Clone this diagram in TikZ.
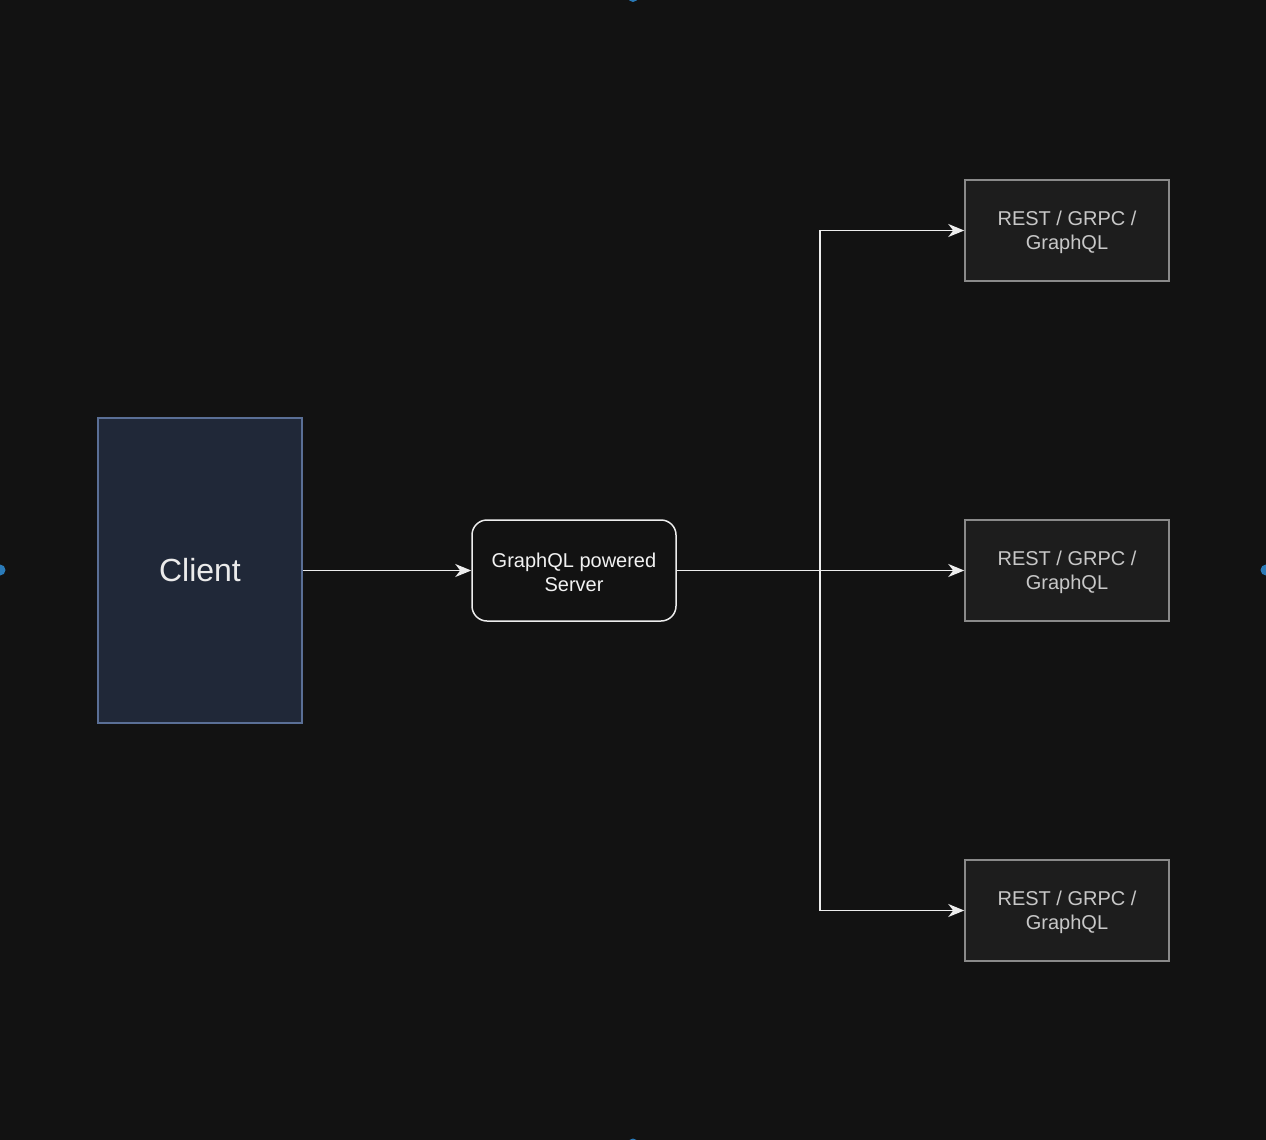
\documentclass[tikz,border=0pt]{standalone}
\usepackage{fontspec}
\setmainfont{Liberation Sans}
\usetikzlibrary{arrows.meta}
\definecolor{bg}{HTML}{121212}
\definecolor{clientfill}{HTML}{202838}
\definecolor{clientdraw}{HTML}{5A6F96}
\definecolor{svcfill}{HTML}{1D1D1D}
\definecolor{svcdraw}{HTML}{8A8A8A}
\definecolor{svctext}{HTML}{C8C8C8}
\definecolor{edge}{HTML}{EDEDED}
\definecolor{handle}{HTML}{2A7AB8}
\newcommand{\lowerstrut}{\rule{0pt}{18.5pt}}
\begin{document}
\begin{tikzpicture}[x=1pt,y=-1pt,
  clientbox/.style={draw=clientdraw,fill=clientfill,line width=1.4pt,minimum width=204pt,minimum height=305pt,inner sep=0pt,text=white!92!black,font=\fontsize{32}{38}\selectfont},
  serverbox/.style={draw=edge,fill=bg,line width=1.5pt,rounded corners=15pt,minimum width=204pt,minimum height=101pt,inner sep=0pt,text=white!95!black,align=center,font=\fontsize{20}{24}\selectfont},
  svcbox/.style={draw=svcdraw,fill=svcfill,line width=1.5pt,minimum width=204pt,minimum height=101pt,inner sep=0pt,text=svctext,align=center,font=\fontsize{20}{24}\selectfont},
  conn/.style={draw=edge,line width=1.6pt,-{Stealth[length=16pt,width=13pt,inset=5pt]}},
  handledot/.style={fill=handle,draw=none}]
\fill[bg] (0,0) rectangle (1266,1140);
\useasboundingbox (0,0) rectangle (1266,1140);
\begin{scope}
\clip (0,0) rectangle (1266,1140);
\fill[handledot] (0,570) circle (5.5);
\fill[handledot] (1266,570) circle (5.5);
\fill[handledot] (633,-3) circle (5);
\fill[handledot] (633,1143.5) circle (5);
\end{scope}
\node[clientbox] (client) at (200,570.5) {\raisebox{-2pt}{Client}};
\node[serverbox] (server) at (574,570.5) {\lowerstrut GraphQL powered\\Server};
\node[svcbox] (s1) at (1067,230.5) {\lowerstrut REST / GRPC /\\GraphQL};
\node[svcbox] (s2) at (1067,570.5) {\lowerstrut REST / GRPC /\\GraphQL};
\node[svcbox] (s3) at (1067,910.5) {\lowerstrut REST / GRPC /\\GraphQL};
\coordinate (split) at (820,570.5);
\draw[conn] (client.east) -- (server.west);
\draw[conn] (server.east) -- (s2.west);
\draw[conn] (server.east) -- (split) |- (s1.west);
\draw[conn] (server.east) -- (split) |- (s3.west);
\end{tikzpicture}
\end{document}
